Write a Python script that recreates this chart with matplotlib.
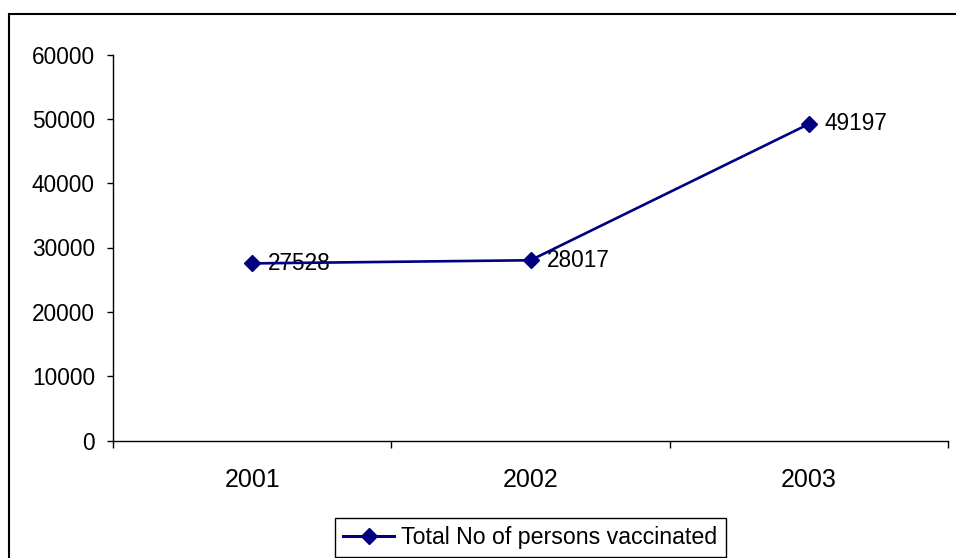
import matplotlib
matplotlib.use("Agg")
import matplotlib.pyplot as plt
from matplotlib.patches import Rectangle
from matplotlib.ticker import FixedLocator

years = ["2001", "2002", "2003"]
vaccinated = [27528, 28017, 49197]
series_name = "Total No of persons vaccinated"
yticks = [0, 10000, 20000, 30000, 40000, 50000, 60000]

plt.rcParams['font.family'] = ['Liberation Sans', 'DejaVu Sans']

W, H = 956, 558
fig = plt.figure(figsize=(W / 100, H / 100), dpi=100)
ax = fig.add_axes([113 / W, 1 - 440.5 / H, (948 - 113) / W, (440.5 - 54.5) / H])

x = list(range(len(years)))
line, = ax.plot(x, vaccinated, color='#000080', lw=1.9, marker='D', markersize=8,
                markerfacecolor='#000080', markeredgecolor='#000080', zorder=3,
                label=series_name)
for xi, v in zip(x, vaccinated):
    ax.annotate(str(v), (xi, v), xytext=(11.5, 0), textcoords='offset points',
                ha='left', va='center', fontsize=16.3, color='black', zorder=2)

ax.set_xlim(-0.5, len(years) - 0.5)
ax.set_ylim(0, 60000)
ax.set_yticks(yticks)
ax.set_yticklabels([str(t) for t in yticks])
ax.set_xticks(x)
ax.set_xticklabels(years)
ax.xaxis.set_minor_locator(FixedLocator([i - 0.5 for i in range(len(years) + 1)]))

ax.tick_params(axis='y', direction='out', length=4.5, width=1, pad=8.5, labelsize=16.3)
ax.tick_params(axis='x', which='major', length=0, pad=20, labelsize=18)
ax.tick_params(axis='x', which='minor', direction='out', length=5, width=1)

for s in ['top', 'right']:
    ax.spines[s].set_visible(False)
for s in ['left', 'bottom']:
    ax.spines[s].set_linewidth(1)
    ax.spines[s].set_color('black')

leg = fig.legend(handles=[line], loc='center', bbox_to_anchor=(530.5 / W, 1 - 537.5 / H),
                 fontsize=16.7, frameon=True, fancybox=False, edgecolor='black',
                 framealpha=1, borderpad=0.35, handlelength=2.2, handletextpad=0.3,
                 borderaxespad=0)
leg.get_frame().set_linewidth(1)
for h in leg.legend_handles:
    h.set_linewidth(2.2)

fig.patches.append(Rectangle((8.5 / W, -0.1), 1.0, (1 - 14 / H) + 0.1,
                             transform=fig.transFigure, fill=False,
                             edgecolor='black', lw=1.5))

fig.savefig('out.png', dpi=100)
